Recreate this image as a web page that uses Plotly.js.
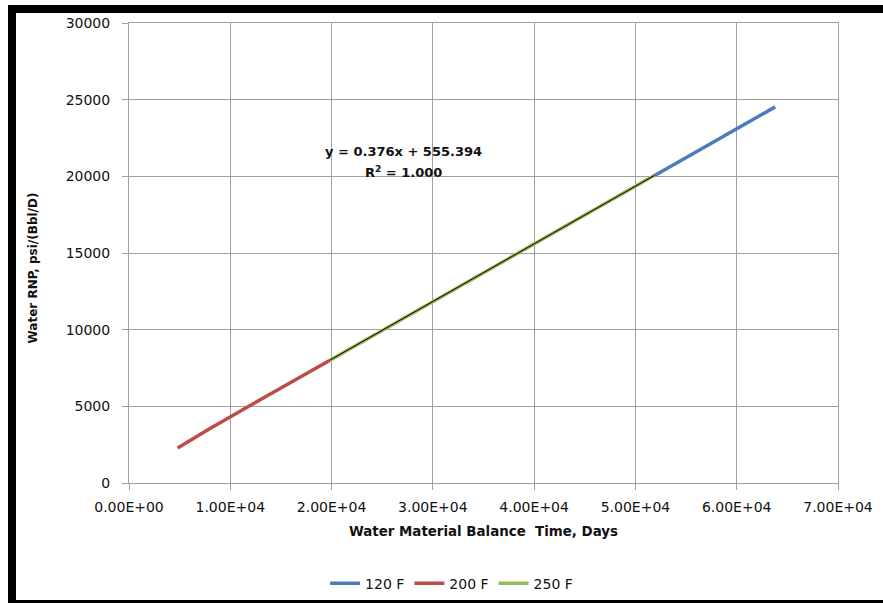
<!DOCTYPE html>
<html>
<head>
<meta charset="utf-8">
<script src="https://cdn.plot.ly/plotly-3.0.1.min.js"></script>
<style>
  html, body { margin: 0; padding: 0; background: #ffffff; }
  #wrap { position: relative; width: 883px; height: 603px; overflow: hidden; }
  #chart { position: absolute; left: 0; top: 0; width: 883px; height: 603px; }
  .bar { position: absolute; background: #000; z-index: 5; }
</style>
</head>
<body>
<div id="wrap">
  <div class="bar" style="left:8px; top:5px; width:875px; height:8px;"></div>
  <div class="bar" style="left:8px; top:5px; width:8px; height:598px;"></div>
  <div class="bar" style="left:8px; top:600px; width:875px; height:3px;"></div>
  <div id="chart"></div>
</div>
<script>
// Series data
const t120 = [51900, 55000, 58000, 61000, 63800];
const rnp120 = [20050, 21230, 22360, 23490, 24530];

const t200 = [4800, 8000, 12000, 16000, 19800];
const rnp200 = [2290, 3560, 5070, 6560, 7990];

const t250 = [19800, 26000, 32000, 38000, 44000, 51900];
const rnp250 = [7990, 10330, 12600, 14850, 17100, 20070];

// Linear trendline (from the reference equation) over the 250 F series
const trendSlope = 0.376;
const trendIntercept = 555.394;
const trendX = [t250[0], t250[t250.length - 1]];
const trendY = trendX.map(x => trendSlope * x + trendIntercept);

const seriesNames = ["120 F", "200 F", "250 F"];
const seriesColors = ["#4a7ebb", "#be4b48", "#98b954"];

const xTickVals = [0, 10000, 20000, 30000, 40000, 50000, 60000, 70000];
const xTickLabels = ["0.00E+00", "1.00E+04", "2.00E+04", "3.00E+04", "4.00E+04", "5.00E+04", "6.00E+04", "7.00E+04"];
const yTickVals = [0, 5000, 10000, 15000, 20000, 25000, 30000];
const yTickLabels = ["0", "5000", "10000", "15000", "20000", "25000", "30000"];

const eqText = "y = 0.376x + 555.394";
const r2Text = "R<sup>2</sup> = 1.000";
const xTitle = "Water Material Balance  Time, Days";
const yTitle = "Water RNP, psi/(Bbl/D)";

const FONT = "DejaVu Sans, Verdana, sans-serif";
const TXT = "#111111";

const traces = [
  { x: t120, y: rnp120, name: seriesNames[0], mode: "lines", line: { color: seriesColors[0], width: 3.5 } },
  { x: t200, y: rnp200, name: seriesNames[1], mode: "lines", line: { color: seriesColors[1], width: 3.5 } },
  { x: t250, y: rnp250, name: seriesNames[2], mode: "lines", line: { color: seriesColors[2], width: 3.5 } },
  { x: trendX, y: trendY, name: "Linear (250 F)", mode: "lines", line: { color: "#000000", width: 1 }, showlegend: false, hoverinfo: "skip" }
];

const layout = {
  width: 883,
  height: 603,
  paper_bgcolor: "rgba(0,0,0,0)",
  plot_bgcolor: "#ffffff",
  margin: { l: 129, r: 45, t: 23, b: 120, autoexpand: false },
  font: { family: FONT, size: 12, color: TXT },
  showlegend: true,
  legend: {
    orientation: "h",
    x: 0.455, xanchor: "center",
    y: -0.219, yanchor: "middle",
    font: { family: FONT, size: 14, color: TXT },
    itemwidth: 30,
    tracegroupgap: 0
  },
  xaxis: {
    range: [0, 70000],
    tickvals: xTickVals,
    ticktext: xTickLabels,
    showgrid: true,
    gridcolor: "#a0a0a0",
    gridwidth: 1,
    zeroline: false,
    showline: true,
    linecolor: "#a0a0a0",
    linewidth: 1,
    mirror: true,
    ticks: "outside",
    ticklen: 6,
    tickcolor: "#a0a0a0",
    ticklabelstandoff: 5,
    tickfont: { family: FONT, size: 14, color: TXT },
    title: { text: "<b>" + xTitle + "</b>", font: { family: FONT, size: 13.4, color: TXT }, standoff: 12 }
  },
  yaxis: {
    range: [0, 30000],
    tickvals: yTickVals,
    ticktext: yTickLabels,
    showgrid: true,
    gridcolor: "#a0a0a0",
    gridwidth: 1,
    zeroline: false,
    showline: true,
    linecolor: "#a0a0a0",
    linewidth: 1,
    mirror: true,
    ticks: "outside",
    ticklen: 6,
    tickcolor: "#a0a0a0",
    ticklabelstandoff: 9,
    tickfont: { family: FONT, size: 14, color: TXT }
  },
  annotations: [
    { x: 0.3865, y: 0.7196, xref: "paper", yref: "paper", xanchor: "center", yanchor: "middle",
      text: "<b>" + eqText + "</b>", showarrow: false, font: { family: FONT, size: 13, color: TXT } },
    { x: 0.3865, y: 0.676, xref: "paper", yref: "paper", xanchor: "center", yanchor: "middle",
      text: "<b>" + r2Text + "</b>", showarrow: false, font: { family: FONT, size: 13, color: TXT } },
    { x: -0.135, y: 0.467, xref: "paper", yref: "paper", xanchor: "center", yanchor: "middle",
      text: "<b>" + yTitle + "</b>", textangle: -90, showarrow: false, font: { family: FONT, size: 12, color: TXT } }
  ]
};

Plotly.newPlot("chart", traces, layout, { displayModeBar: false, staticPlot: true });
</script>
</body>
</html>
